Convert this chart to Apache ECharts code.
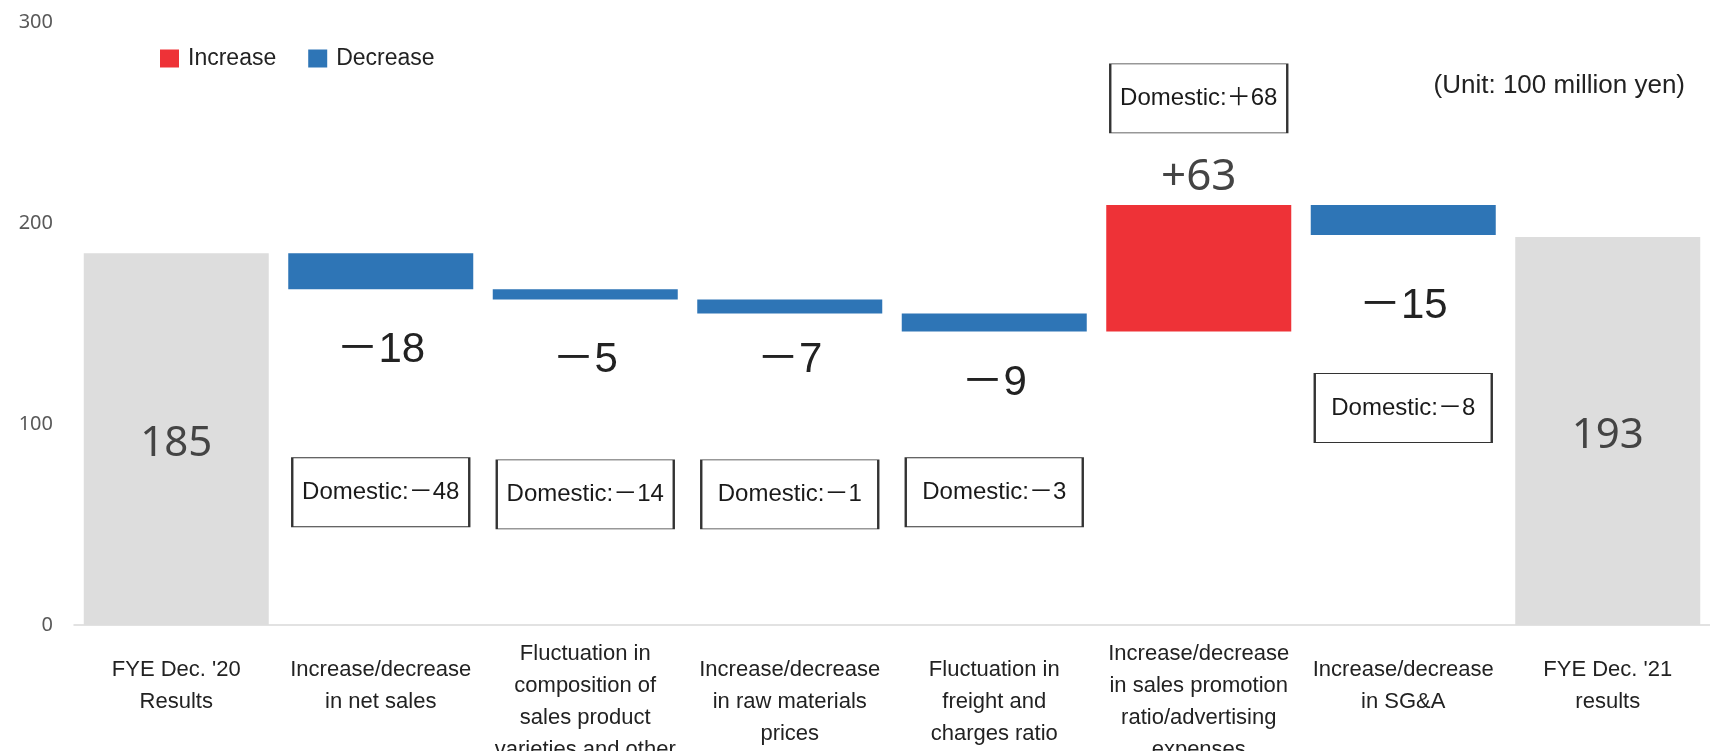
<!DOCTYPE html>
<html>
<head>
<meta charset="utf-8">
<title>Operating profit bridge</title>
<script src="https://cdn.jsdelivr.net/npm/echarts@6/dist/echarts.min.js"></script>
<style>
  html, body { margin: 0; padding: 0; background: #fff; }
  #chart { width: 1710px; height: 751px; }
</style>
</head>
<body>
<div id="chart"></div>
<script>
// categories (x axis)
var categories = [
  'FYE Dec. \'20\nResults',
  'Increase/decrease\nin net sales',
  'Fluctuation in\ncomposition of\nsales product\nvarieties and other',
  'Increase/decrease\nin raw materials\nprices',
  'Fluctuation in\nfreight and\ncharges ratio',
  'Increase/decrease\nin sales promotion\nratio/advertising\nexpenses',
  'Increase/decrease\nin SG&A',
  'FYE Dec. \'21\nresults'
]
// start / end results and the steps between them (100 million yen)
var startValue = 185
var endValue = 193
var changes = [-18, -5, -7, -9, 63, -15]
// domestic figures shown in the boxes, one per step
var domestic = [-48, -14, -1, -3, 68, -8]
var yTicks = [0, 100, 200, 300]

// layout only: where each box sits (y in axis units) and how far each step label drops
var boxLevel = [66, 65, 65, 66, 262, 108]
var labelDistance = [40, 40, 26, 31, 5, 50]

// build the stacked waterfall pieces
var baseData = ['-']
var totalData = [startValue]
var upData = ['-']
var downData = ['-']
var running = startValue
changes.forEach(function(d, i) {
  var next = running + d
  baseData.push(Math.min(running, next))
  totalData.push('-')
  if (d >= 0) {
    upData.push({ value: d, label: { distance: labelDistance[i] } })
    downData.push('-')
  } else {
    upData.push('-')
    downData.push({ value: -d, label: { distance: labelDistance[i] } })
  }
  running = next
})
baseData.push('-')
totalData.push(endValue)
upData.push('-')
downData.push('-')

var boxData = domestic.map(function(v, i) {
  return [i + 1, boxLevel[i]]
})

function signed(v) {
  return (v < 0 ? '－' : '＋') + Math.abs(v)
}

var chart = echarts.init(document.getElementById('chart'))
chart.setOption({
  animation: false,
  backgroundColor: '#fff',
  legend: {
    data: ['Increase', 'Decrease'],
    left: 155,
    top: 42,
    icon: 'rect',
    itemWidth: 19,
    itemHeight: 18,
    itemGap: 32,
    textStyle: {
      fontFamily: 'Liberation Sans, Arial, sans-serif',
      fontSize: 23,
      color: '#222',
      padding: [0, 0, 0, 4]
    }
  },
  graphic: [
    {
      type: 'text',
      right: 25,
      top: 73,
      style: {
        text: '(Unit: 100 million yen)',
        fontFamily: 'Liberation Sans, Arial, sans-serif',
        fontSize: 26,
        fill: '#222'
      }
    }
  ],
  grid: {
    left: 74,
    right: 0,
    top: 22,
    bottom: 126,
    outerBoundsMode: 'none'
  },
  xAxis: {
    type: 'category',
    data: categories,
    axisTick: { show: false },
    axisLine: { lineStyle: { color: '#d9d9d9', width: 1.5 } },
    axisLabel: {
      interval: 0,
      margin: 77,
      verticalAlign: 'middle',
      lineHeight: 32,
      fontFamily: 'Liberation Sans, Arial, sans-serif',
      fontSize: 22,
      color: '#222',
      // short labels sit one line high, like the slide they come from
      formatter: function(v) {
        return v.split('\n').length === 2 ? v + '\n ' : v
      }
    }
  },
  yAxis: {
    type: 'value',
    min: yTicks[0],
    max: yTicks[yTicks.length - 1],
    interval: 100,
    axisLine: { show: false },
    axisTick: { show: false },
    splitLine: { show: false },
    axisLabel: {
      margin: 21,
      fontFamily: 'Noto Sans, sans-serif',
      fontSize: 20,
      color: '#595959'
    }
  },
  series: [
    {
      name: 'base',
      type: 'bar',
      stack: 'w',
      barWidth: 185,
      itemStyle: { color: 'transparent' },
      silent: true,
      data: baseData
    },
    {
      name: 'Total',
      type: 'bar',
      stack: 'w',
      barWidth: 185,
      itemStyle: { color: '#dddddd' },
      label: {
        show: true,
        position: 'inside',
        offset: [0, 5],
        fontFamily: 'Noto Sans, sans-serif',
        fontSize: 42,
        color: '#444'
      },
      data: totalData
    },
    {
      name: 'Increase',
      type: 'bar',
      stack: 'w',
      barWidth: 185,
      itemStyle: { color: '#ee3237' },
      label: {
        show: true,
        position: 'top',
        formatter: function(p) { return '+' + p.value },
        fontFamily: 'Noto Sans, sans-serif',
        fontSize: 44,
        color: '#444'
      },
      data: upData
    },
    {
      name: 'Decrease',
      type: 'bar',
      stack: 'w',
      barWidth: 185,
      itemStyle: { color: '#2e75b6' },
      label: {
        show: true,
        position: 'bottom',
        formatter: function(p) { return '－' + p.value },
        fontFamily: 'Liberation Sans, Arial, Noto Sans CJK JP, sans-serif',
        fontSize: 42,
        color: '#222'
      },
      data: downData
    },
    {
      name: 'Domestic',
      type: 'scatter',
      symbol: 'rect',
      symbolSize: [177, 69],
      z: 5,
      itemStyle: {
        color: '#fff',
        opacity: 1,
        borderColor: '#333',
        borderWidth: 1.5
      },
      label: {
        show: true,
        position: 'inside',
        formatter: function(p) { return 'Domestic:' + signed(domestic[p.dataIndex]) },
        fontFamily: 'Liberation Sans, Arial, Noto Sans CJK JP, sans-serif',
        fontSize: 24,
        color: '#1a1a1a'
      },
      emphasis: { disabled: true },
      data: boxData
    }
  ]
})
</script>
</body>
</html>
